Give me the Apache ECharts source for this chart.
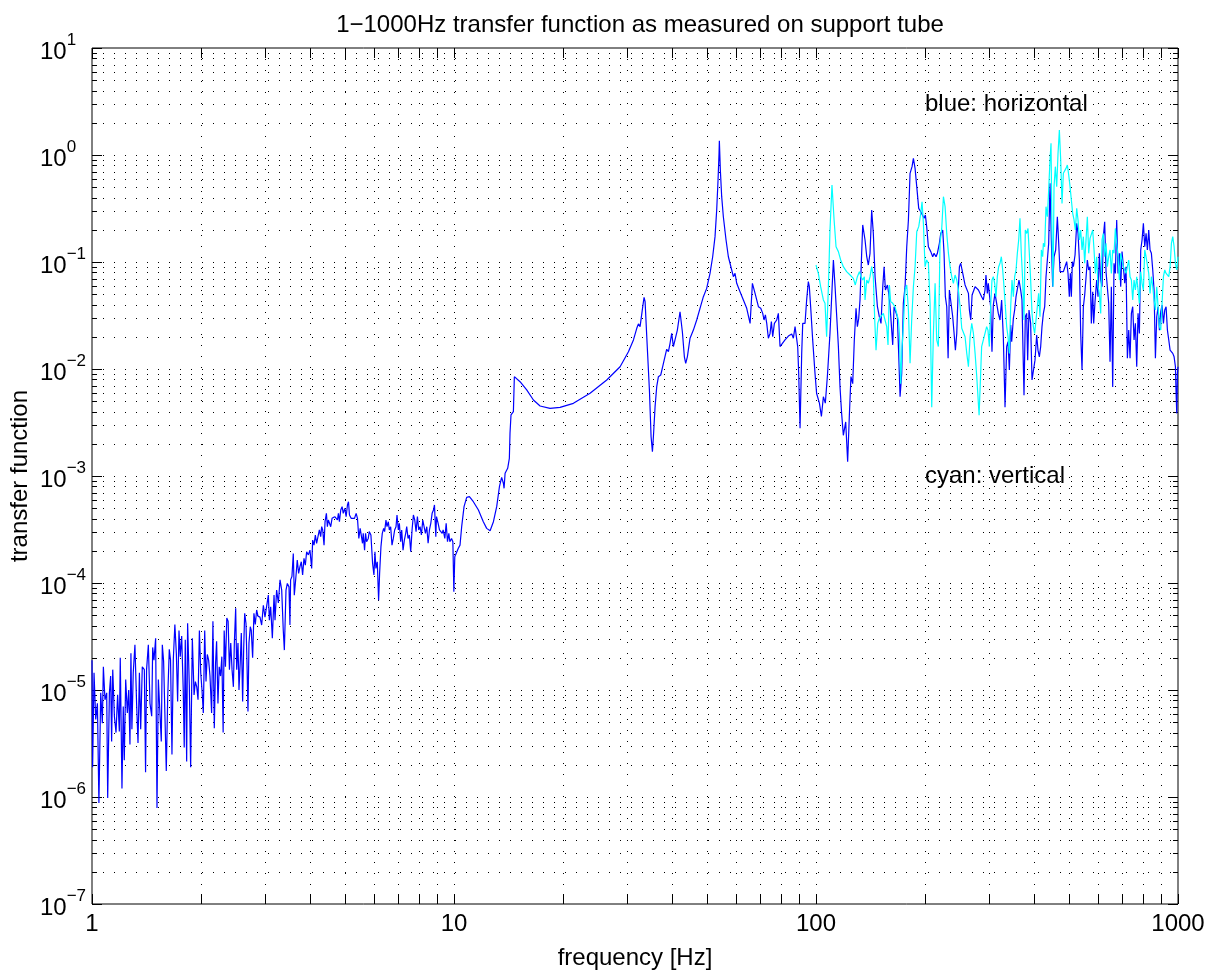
<!DOCTYPE html>
<html>
<head>
<meta charset="utf-8">
<title>transfer function</title>
<script src="https://cdn.jsdelivr.net/npm/echarts@6/dist/echarts.min.js"></script>
<style>
  html, body { margin: 0; padding: 0; background: #fff; }
  #chart { width: 1214px; height: 973px; }
</style>
</head>
<body>
<div id="chart"></div>
<script>
// blue: horizontal
var horizFreq = [
  1.000, 1.004, 1.013, 1.024, 1.035, 1.045, 1.057, 1.068, 1.075, 1.086, 1.098, 1.105, 1.117, 1.126, 1.133, 1.141,
  1.153, 1.165, 1.177, 1.190, 1.197, 1.210, 1.220, 1.228, 1.239, 1.252, 1.263, 1.273, 1.281, 1.289, 1.300, 1.314,
  1.328, 1.340, 1.352, 1.363, 1.377, 1.395, 1.406, 1.415, 1.431, 1.446, 1.462, 1.471, 1.483, 1.499, 1.512, 1.525,
  1.541, 1.554, 1.564, 1.577, 1.590, 1.604, 1.618, 1.635, 1.648, 1.663, 1.677, 1.694, 1.710, 1.724, 1.739, 1.753,
  1.769, 1.787, 1.798, 1.810, 1.826, 1.837, 1.857, 1.873, 1.893, 1.914, 1.930, 1.947, 1.963, 1.980, 1.997, 2.013,
  2.030, 2.048, 2.065, 2.082, 2.100, 2.118, 2.140, 2.158, 2.177, 2.195, 2.209, 2.228, 2.246, 2.265, 2.284, 2.303,
  2.318, 2.337, 2.357, 2.377, 2.397, 2.417, 2.437, 2.458, 2.473, 2.494, 2.510, 2.531, 2.547, 2.569, 2.585, 2.607,
  2.624, 2.641, 2.663, 2.680, 2.697, 2.714, 2.737, 2.754, 2.778, 2.801, 2.825, 2.850, 2.874,
  2.911, 2.942, 2.974, 3.005, 3.038, 3.070, 3.090, 3.116, 3.149, 3.183, 3.203, 3.236, 3.272, 3.307, 3.342, 3.376,
  3.399, 3.435, 3.464, 3.501, 3.522, 3.537, 3.567, 3.598, 3.621, 3.659, 3.690, 3.722, 3.754, 3.786, 3.818, 3.851,
  3.884, 3.917, 3.959, 4.000, 4.044, 4.070, 4.105, 4.140, 4.173, 4.211, 4.247, 4.283, 4.310, 4.338, 4.375, 4.403,
  4.441, 4.469, 4.497, 4.526, 4.565, 4.604, 4.643, 4.683, 4.723, 4.764, 4.794, 4.825, 4.866, 4.908, 4.944, 4.992,
  5.035, 5.078, 5.111, 5.143, 5.198, 5.253, 5.310, 5.366, 5.412, 5.459, 5.505, 5.552, 5.588, 5.614, 5.662, 5.698,
  5.735, 5.796, 5.833, 5.895, 5.958, 6.009, 6.048, 6.086, 6.138, 6.191, 6.230, 6.284, 6.337, 6.392, 6.432, 6.487,
  6.529, 6.585, 6.627, 6.684, 6.741, 6.798, 6.856, 6.915, 6.959, 7.019, 7.064, 7.124, 7.170, 7.231, 7.293, 7.355,
  7.402, 7.465, 7.529, 7.593, 7.658, 7.724, 7.790, 7.856, 7.923, 7.991, 8.059, 8.128, 8.198, 8.268, 8.339, 8.410,
  8.482, 8.554, 8.627, 8.701, 8.776, 8.832, 8.907, 8.947, 9.040, 9.117, 9.195, 9.274, 9.334, 9.433, 9.514, 9.595,
  9.677, 9.738, 9.844, 9.928, 9.991, 10.05,
  10.07, 10.28, 10.39, 10.50, 10.66, 10.84, 11.03, 11.31, 11.68, 12.05, 12.31, 12.58, 12.85, 13.12, 13.35, 13.54,
  13.69, 13.75, 13.84, 14.07, 14.22, 14.28, 14.37, 14.59, 14.68, 14.84, 15.22, 15.88, 16.57, 17.29, 18.42, 19.63,
  21.37, 23.76, 26.42, 28.76, 30.33, 31.31, 31.98, 32.32, 32.66, 33.01, 33.22, 33.50, 33.72, 34.08, 34.66, 35.03,
  35.33, 35.55, 35.93, 36.31, 36.70, 37.25, 37.89, 38.69, 39.11, 39.52, 39.94, 40.37, 40.80, 41.40, 42.11, 42.74,
  43.29, 43.66, 44.12, 44.88, 45.84, 46.82, 47.82, 48.85, 49.89, 50.42, 50.96, 51.83,
  52.61, 53.17, 53.63, 53.97, 54.08, 54.42, 54.89, 55.47, 56.43, 57.27, 58.50, 59.12, 59.75, 60.39, 61.68, 63.01,
  64.36, 65.75, 66.17, 66.73, 67.87, 69.33, 70.36, 71.26, 71.86, 72.48, 73.10, 73.86, 74.65, 75.29, 75.93, 76.74,
  77.88, 78.71, 79.55, 80.39, 82.11, 83.89, 85.69, 86.60, 87.53, 88.45, 89.01, 89.58, 90.35, 91.31, 91.90, 93.25,
  94.23, 95.24, 95.85, 96.66, 97.91,
  99.37, 100.4, 102.2, 103.5, 104.8, 106.1, 107.5, 109.3, 111.7, 112.9, 114.1, 115.3, 116.5, 117.7, 119.0, 120.8,
  122.3, 123.6, 124.9, 126.3, 127.6, 129.0, 130.1, 131.2, 132.3, 133.7, 134.6, 136.6, 138.1, 139.5, 141.0, 142.5,
  144.0, 145.6, 147.8, 149.6, 151.2, 152.9, 154.2, 155.5, 157.5, 158.8, 160.2, 161.9, 162.9, 164.3, 166.0, 167.8,
  169.2, 170.7, 172.5, 174.3, 176.2, 178.1, 180.0, 181.9, 184.2, 185.8, 187.8, 189.8, 192.2, 194.7, 196.7, 198.8,
  200.5, 202.2, 204.4, 207.5, 210.1, 211.9, 214.6, 216.4, 219.2, 221.1, 223.9, 225.8, 227.7, 229.7, 231.7, 233.6,
  236.1, 238.6, 240.7, 242.7, 244.8, 246.9, 249.0, 251.1, 253.2, 255.4, 258.1, 260.9, 263.7, 265.3, 267.6, 269.9,
  272.2, 275.1, 278.0, 281.0,
  283.8, 286.8, 289.9, 293.0, 294.8, 297.4, 299.2, 301.2, 303.7, 306.3, 308.9, 312.2, 315.6, 318.9, 322.3, 325.7,
  329.2, 332.8, 336.3, 339.2, 342.1, 345.0, 347.2, 350.9, 353.8, 356.9, 360.7, 363.7, 367.6, 370.7, 373.1, 375.5,
  378.6, 381.9, 384.3, 387.6, 391.7, 395.1, 398.5, 402.7, 407.0, 410.4, 414.0, 417.5, 421.0, 424.7, 428.3, 431.9,
  435.6, 439.3, 443.0, 446.8, 450.6, 454.5, 459.3, 464.2, 468.2, 472.2, 477.2, 482.3, 487.4, 492.6, 496.8, 501.0,
  504.3, 507.5, 510.7, 514.0, 519.5, 525.0, 529.5, 534.0, 538.5, 543.1, 547.7, 552.4, 557.1, 561.8, 566.6, 571.5,
  576.3, 581.3, 584.9, 589.9, 596.2, 601.3, 606.4, 611.6, 616.8, 622.0, 627.3, 632.7, 638.1, 643.5, 649.0, 654.5,
  660.1, 665.7, 671.4, 677.1, 682.9, 688.7, 694.6, 700.5, 706.5, 712.5, 718.6, 724.7, 730.9, 737.1, 743.4, 749.7,
  756.1, 762.6, 769.1, 775.6, 782.2, 788.9, 795.6, 802.4, 809.3, 816.2, 823.1, 830.1, 837.2, 844.3, 851.6, 858.8,
  866.2, 873.5, 881.0, 888.5, 896.1, 903.7, 911.4, 919.2, 927.0, 934.9, 942.9, 950.9, 959.0, 967.2, 975.5, 983.8,
  988.0, 992.2, 996.4, 1000
];
var horizMag = [
  1.9e-5, 1.9e-6, 1.45e-5, 5.3e-6, 7.5e-6, 8.8e-7, 9.4e-6, 4.9e-6, 1.65e-5, 8.1e-6, 9.4e-6, 9.8e-7, 9.4e-6, 1.35e-5, 3.3e-6, 1.55e-5,
  5.7e-6, 4.0e-6, 9.0e-6, 4.1e-6, 2.0e-5, 1.2e-6, 7.0e-6, 2.2e-6, 1.25e-5, 6.1e-6, 1.0e-5, 3.1e-6, 2.2e-5, 4.3e-6, 1.45e-5, 2.65e-5,
  7.5e-6, 3.2e-6, 1.45e-5, 4.3e-6, 1.65e-5, 1.55e-5, 1.7e-6, 1.55e-5, 2.65e-5, 7.5e-6, 5.7e-6, 2.5e-5, 1.9e-5, 3.05e-5, 7.9e-7, 1.25e-5,
  1.25e-5, 3.3e-6, 2.65e-5, 1.85e-5, 1.85e-5, 1.75e-6, 8.1e-6, 2.4e-5, 1.9e-5, 2.5e-6, 1.9e-5, 4.1e-5, 2.2e-5, 7.8e-6, 3.6e-5, 2.05e-5,
  3.2e-5, 9.7e-6, 2.9e-6, 2.95e-5, 2.15e-6, 4.2e-5, 1.1e-5, 1.9e-6, 3.05e-5, 9.0e-6, 1.2e-5, 1.07e-5, 8.1e-6, 3.6e-5, 1.45e-5, 1.0e-5,
  6.1e-6, 3.6e-5, 1.2e-5, 2.15e-5, 1.9e-5, 1.35e-5, 6.1e-6, 4.4e-5, 4.4e-6, 1.8e-5, 2.85e-5, 7.5e-6, 1.65e-5, 1.35e-5, 2.05e-5, 4.0e-6,
  3.6e-5, 1.65e-5, 4.7e-5, 4.4e-5, 1.55e-5, 2.75e-5, 1.55e-5, 1.07e-5, 2.75e-5, 5.8e-5, 1.55e-5, 2.75e-5, 1.0e-5, 1.9e-5, 3.4e-5, 7.8e-6,
  2.4e-5, 5.2e-5, 4.2e-5, 1.8e-5, 6.3e-6, 2.75e-5, 3.9e-5, 3.6e-5, 2.0e-5, 5.2e-5, 4.1e-5, 5.6e-5, 4.9e-5,
  4.8e-5, 4.05e-5, 6.2e-5, 4.8e-5, 5.0e-5, 7.7e-5, 4.5e-5, 6.0e-5, 3.04e-5, 7.7e-5, 4.5e-5, 8.6e-5, 6.5e-5, 1.07e-4, 8.6e-5, 3.6e-5,
  2.36e-5, 8.6e-5, 9.9e-5, 9.2e-5, 4.05e-5, 1.07e-4, 1.15e-4, 1.89e-4, 7.7e-5, 1.15e-4, 1.64e-4, 1.23e-4, 1.42e-4, 1.58e-4, 1.19e-4, 1.70e-4,
  1.47e-4, 1.96e-4, 1.83e-4, 2.03e-4, 1.37e-4, 2.52e-4, 2.26e-4, 2.81e-4, 2.35e-4, 2.26e-4, 3.13e-4, 2.71e-4, 3.36e-4, 3.13e-4, 2.26e-4, 3.74e-4,
  4.48e-4, 3.36e-4, 3.88e-4, 3.74e-4, 3.36e-4, 4.02e-4, 3.88e-4, 4.17e-4, 4.32e-4, 3.88e-4, 4.48e-4, 3.74e-4, 4.81e-4, 5.17e-4, 4.48e-4, 4.99e-4,
  4.17e-4, 5.36e-4, 5.75e-4, 4.32e-4, 4.02e-4, 4.17e-4, 4.02e-4, 4.48e-4, 4.02e-4, 2.61e-4, 3.24e-4, 2.71e-4, 2.35e-4, 2.91e-4, 2.03e-4, 2.91e-4,
  2.43e-4, 2.61e-4, 3.02e-4, 2.81e-4, 1.53e-4, 1.19e-4, 1.96e-4, 1.37e-4, 1.58e-4, 6.9e-5, 1.23e-4, 2.19e-4, 2.91e-4, 3.24e-4, 3.02e-4, 3.88e-4,
  3.36e-4, 3.74e-4, 3.13e-4, 3.36e-4, 2.26e-4, 2.61e-4, 3.13e-4, 3.36e-4, 4.32e-4, 3.13e-4, 3.61e-4, 2.43e-4, 3.13e-4, 2.03e-4, 2.52e-4, 2.91e-4,
  3.36e-4, 2.61e-4, 2.81e-4, 1.96e-4, 3.13e-4, 4.32e-4, 3.88e-4, 3.02e-4, 4.17e-4, 3.13e-4, 3.36e-4, 2.81e-4, 3.88e-4, 3.74e-4, 2.91e-4, 3.36e-4,
  2.35e-4, 3.13e-4, 3.61e-4, 4.48e-4, 4.81e-4, 5.36e-4, 2.71e-4, 4.17e-4, 3.61e-4, 3.13e-4, 3.24e-4, 2.91e-4, 3.13e-4, 2.61e-4, 3.61e-4, 2.43e-4,
  2.91e-4, 2.43e-4, 2.61e-4, 2.43e-4, 8.3e-5, 1.76e-4,
  1.83e-4, 2.11e-4, 2.26e-4, 3.36e-4, 5.17e-4, 6.32e-4, 6.41e-4, 5.75e-4, 4.81e-4, 3.74e-4, 3.24e-4, 3.08e-4, 3.74e-4, 5.17e-4, 7.94e-4, 9.7e-4,
  8.55e-4, 7.67e-4, 1.06e-3, 1.18e-3, 1.46e-3, 2.51e-3, 3.72e-3, 3.99e-3, 8.48e-3, 8.48e-3, 7.61e-3, 6.37e-3, 5.13e-3, 4.51e-3, 4.29e-3, 4.38e-3,
  4.78e-3, 5.93e-3, 7.9e-3, 1.05e-2, 1.45e-2, 1.87e-2, 2.40e-2, 2.64e-2, 2.49e-2, 2.58e-2, 3.83e-2, 4.68e-2, 4.26e-2, 2.0e-2, 6.37e-3, 2.33e-3,
  1.69e-3, 2.33e-3, 4.45e-3, 6.84e-3, 8.48e-3, 8.79e-3, 1.13e-2, 1.53e-2, 1.45e-2, 1.74e-2, 2.15e-2, 1.62e-2, 1.56e-2, 2.31e-2, 3.43e-2, 2.23e-2,
  1.30e-2, 1.13e-2, 1.30e-2, 1.94e-2, 2.31e-2, 2.87e-2, 3.69e-2, 4.74e-2, 5.67e-2, 5.88e-2, 7.83e-2, 0.112,
  0.1726, 0.306, 0.584, 1.04, 1.36, 0.724, 0.408, 0.265, 0.1606, 0.112, 0.0842, 0.0729, 0.0783, 0.0632, 0.0528, 0.0442,
  0.0369, 0.0267, 0.0382, 0.0632, 0.0509, 0.0382, 0.0369, 0.0331, 0.0287, 0.0320, 0.0267, 0.0194, 0.0215, 0.0277, 0.0200, 0.0267,
  0.0287, 0.0331, 0.0162, 0.0162, 0.0187, 0.0203, 0.0212, 0.0194, 0.0249, 0.0240, 0.0162, 9.12e-3, 2.79e-3, 0.0140, 0.0267, 0.0267,
  0.0442, 0.0655, 0.0588, 0.0382, 0.0187,
  9.1e-3, 5.9e-3, 4.8e-3, 3.6e-3, 5.5e-3, 4.8e-3, 8.5e-3, 0.0215, 0.1044, 0.0588, 0.0308, 0.0162, 6.8e-3, 3.85e-3, 2.4e-3, 3.2e-3,
  1.36e-3, 3.6e-3, 8.5e-3, 7.3e-3, 0.0187, 0.0369, 0.0249, 0.0297, 0.0442, 0.1205, 0.222, 0.1606, 0.112, 0.0937, 0.1205, 0.306,
  0.185, 0.0729, 0.0382, 0.0308, 0.0267, 0.0588, 0.0904, 0.0547, 0.0610, 0.0509, 0.0382, 0.0369, 0.0168, 0.0382, 0.0369, 0.0308,
  0.0140, 5.5e-3, 9.1e-3, 0.0411, 0.0588, 0.139, 0.247, 0.674, 0.778, 0.931, 0.750, 0.506, 0.317, 0.295, 0.285, 0.256,
  0.275, 0.214, 0.139, 0.125, 0.112, 0.1205, 0.112, 0.1205, 0.1494, 0.185, 0.199, 0.1205, 0.0474, 0.0382, 0.0126, 0.0547,
  0.0547, 0.0308, 0.0215, 0.0150, 0.0215, 0.0509, 0.0904, 0.0972, 0.0842, 0.0729, 0.0610, 0.0632, 0.0509, 0.0356, 0.0287, 0.0491,
  0.0491, 0.0588, 0.0610, 0.0547,
  0.0567, 0.0474, 0.0442, 0.0547, 0.0756, 0.0509, 0.0632, 0.0632, 0.0382, 0.0145, 0.0396, 0.0509, 0.0509, 0.0331, 0.0287, 0.0442,
  0.0200, 4.4e-3, 0.0162, 0.0180, 9.8e-3, 0.0258, 0.0180, 0.0297, 0.0356, 0.0474, 0.0474, 0.0679, 0.0547, 0.0442, 0.0150, 5.7e-3,
  0.0308, 0.0331, 0.0121, 0.0356, 0.0267, 7.9e-3, 7.9e-3, 0.0121, 0.0208, 0.0150, 0.0130, 0.0162, 0.0249, 0.0331, 0.0382, 0.0729,
  0.1044, 0.1494, 0.543, 0.1606, 0.0588, 0.112, 0.1295, 0.265, 0.1494, 0.0812, 0.0842, 0.0812, 0.0904, 0.1007, 0.0783, 0.0474,
  0.0783, 0.0474, 0.1007, 0.0904, 0.1162, 0.230, 0.185, 0.1044, 0.0215, 9.8e-3, 0.0382, 0.0491, 0.0509, 0.1044, 0.0842, 0.0904,
  0.0267, 0.0528, 0.0267, 0.0426, 0.0679, 0.0474, 0.1205, 0.0679, 0.0588, 0.1725, 0.238, 0.0812, 0.0842, 0.0411, 0.0117, 0.0588,
  6.8e-3, 0.0972, 0.0783, 0.247, 0.0783, 0.1205, 0.0588, 0.125, 0.0904, 0.0632, 0.0904, 0.0126, 0.0231, 0.0126, 0.0331, 0.0382,
  0.0187, 0.0267, 0.0105, 0.0331, 0.0215, 0.1295, 0.1606, 0.230, 0.139, 0.185, 0.1295, 0.199, 0.1295, 0.1205, 0.0842, 0.0547,
  0.0126, 0.0308, 0.0382, 0.0231, 0.0343, 0.0396, 0.0267, 0.0356, 0.0382, 0.0231, 0.0187, 0.0150, 0.0150, 0.0140, 0.0130, 0.0105,
  5.9e-3, 3.85e-3, 9.1e-3, 0.0105
];

// cyan: vertical
var vertFreq = [
  100.0, 101.5, 103.0, 104.8, 105.9, 107.0, 108.2, 109.3, 110.7, 112.2, 113.6, 115.3, 117.0, 119.0, 121.5, 124.2,
  126.8, 128.4, 130.1, 131.8, 133.2, 134.6, 136.0, 136.6, 138.1, 139.5, 141.0, 142.5, 144.0, 145.3, 146.5, 148.1,
  149.6, 151.2, 153.5, 155.1, 156.8, 158.1, 159.5, 160.8, 162.9, 165.3, 167.1, 168.9, 170.0, 171.4, 172.9, 174.3,
  176.2, 178.1, 180.0, 181.9, 183.8, 185.8, 187.8, 189.8, 192.2, 194.7, 196.3, 198.0, 200.1, 202.2, 204.4, 206.6,
  208.8, 211.0, 213.3, 215.5, 217.8, 220.1, 222.5, 224.9, 227.3, 229.7, 232.2, 234.6, 237.1, 239.6, 242.2, 244.8,
  247.4, 250.0, 252.7, 255.4, 258.1, 260.9, 263.7, 266.5, 269.3, 272.2, 275.1, 278.0, 282.2,
  286.8, 289.9, 293.0, 296.1, 298.6, 301.2, 303.7, 306.3, 308.9, 311.6, 314.2, 316.9, 319.6, 322.3, 325.1, 327.9,
  330.6, 333.5, 336.3, 339.2, 342.1, 345.0, 347.9, 350.9, 353.8, 356.9, 359.9, 363.0, 366.0, 369.1, 372.3, 375.5,
  378.6, 381.9, 385.1, 388.4, 391.7, 395.1, 398.5, 401.8, 405.3, 408.7, 412.2, 415.7, 419.3, 422.8, 424.7, 428.3,
  431.9, 435.6, 439.3, 443.0, 445.9, 448.7, 451.6, 454.5, 458.3, 462.3, 466.2, 470.2, 474.2, 478.2, 482.3, 486.4,
  490.5, 494.7, 499.0, 503.2, 507.5, 511.8, 516.2, 520.6, 525.0, 529.5, 534.0, 538.5, 543.1, 547.7, 552.4, 557.1,
  561.8, 566.6, 571.5, 576.3, 581.3, 586.2, 591.2, 596.2, 601.3, 606.4, 611.6, 616.8, 622.0, 627.3, 632.7, 638.1,
  643.5, 649.0, 654.5, 660.1, 665.7, 671.4, 677.1, 682.9, 688.7, 694.6, 700.5, 706.5, 712.5, 718.6, 724.7, 730.9,
  737.1, 743.4, 749.7, 756.1, 762.6, 769.1, 775.6, 782.2, 788.9, 795.6, 802.4, 809.3, 816.2, 823.1, 830.1, 837.2,
  844.3, 851.6, 858.8, 866.2, 873.5, 881.0, 888.5, 896.1, 903.7, 911.4, 919.2, 927.0, 934.9, 942.9, 950.9, 959.0,
  967.2, 975.5, 983.8, 992.2, 1000
];
var vertMag = [
  0.0937, 0.0783, 0.0588, 0.0442, 0.0411, 0.0200, 0.0588, 0.199, 0.524, 0.247, 0.139, 0.125, 0.1044, 0.0904, 0.0812, 0.0756,
  0.0704, 0.0610, 0.0729, 0.0812, 0.0729, 0.0679, 0.0729, 0.0442, 0.0679, 0.0632, 0.0729, 0.0904, 0.0729, 0.0287, 0.0150, 0.0267,
  0.0297, 0.0287, 0.0331, 0.0287, 0.0249, 0.0168, 0.0610, 0.0426, 0.0411, 0.0382, 0.0331, 0.0287, 0.0215, 7.3e-3, 0.0162, 0.0249,
  0.0547, 0.0610, 0.0356, 0.0113, 0.0287, 0.0588, 0.0904, 0.192, 0.214, 0.285, 0.366, 0.230, 0.0904, 0.1044, 0.0972, 0.0411,
  4.4e-3, 0.0215, 0.0632, 0.0187, 0.0162, 0.1494, 0.206, 0.408, 0.329, 0.185, 0.1205, 0.0904, 0.0729, 0.0632, 0.0756, 0.0679,
  0.0547, 0.0382, 0.0240, 0.0249, 0.0200, 0.0140, 0.0105, 0.0200, 0.0267, 0.0215, 0.0140, 8.5e-3, 3.7e-3,
  0.0162, 0.0168, 0.0215, 0.0249, 0.0231, 0.0162, 0.0382, 0.0679, 0.0729, 0.0632, 0.0474, 0.0729, 0.0904, 0.0972, 0.112, 0.0842,
  0.0588, 0.0382, 0.0249, 0.0200, 0.0140, 0.0382, 0.0679, 0.0474, 0.0729, 0.0842, 0.1205, 0.1606, 0.256, 0.1205, 0.0679, 0.0287,
  0.199, 0.185, 0.206, 0.1205, 0.0679, 0.0331, 0.0249, 0.0215, 0.0287, 0.0382, 0.0509, 0.0308, 0.1295, 0.112, 0.1494, 0.139,
  0.329, 0.265, 0.471, 0.898, 1.29, 0.1725, 0.0588, 0.506, 0.778, 0.506, 1.04, 1.71, 0.898, 0.353, 0.674, 0.699,
  0.750, 0.806, 0.650, 0.506, 0.380, 0.285, 0.247, 0.199, 0.317, 0.247, 0.1606, 0.199, 0.1295, 0.1725, 0.0972, 0.1606,
  0.265, 0.1205, 0.1663, 0.1606, 0.199, 0.1295, 0.0783, 0.112, 0.0588, 0.0509, 0.0331, 0.1606, 0.185, 0.112, 0.1494, 0.0904,
  0.112, 0.1295, 0.0783, 0.1295, 0.1205, 0.206, 0.1494, 0.112, 0.0679, 0.1205, 0.125, 0.0904, 0.0842, 0.0783, 0.0756, 0.1044,
  0.0729, 0.0679, 0.0442, 0.0679, 0.0547, 0.0729, 0.0729, 0.0411, 0.0812, 0.0632, 0.0547, 0.1295, 0.112, 0.112, 0.0783, 0.0509,
  0.0729, 0.0588, 0.0442, 0.0356, 0.0588, 0.0382, 0.0249, 0.0231, 0.0411, 0.0729, 0.0842, 0.0783, 0.0812, 0.0729, 0.0904, 0.1494,
  0.1725, 0.139, 0.0972, 0.0842, 0.112
];

var xMajor = [1, 10, 100, 1000];
var yMajor = [1e-7, 1e-6, 1e-5, 1e-4, 1e-3, 1e-2, 1e-1, 1, 10];
var noteText = ['blue: horizontal', 'cyan: vertical'];
var noteX = [200, 200];
var noteY = [3, 1e-3];

var FONT = 'Liberation Sans, Arial, Helvetica, sans-serif';

function pairs(xs, ys) {
  return xs.map(function (x, i) { return [x, ys[i]]; });
}

// major + minor tick values (1..9 per decade), flag 1 for major
function tickList(majors) {
  var out = [];
  majors.forEach(function (m, k) {
    out.push([m, 1]);
    if (k < majors.length - 1) {
      for (var j = 2; j <= 9; j++) out.push([m * j, 0]);
    }
  });
  return out;
}

var dotted = { stroke: '#000', lineWidth: 1, lineDash: [1, 10] };
var solid = { stroke: '#000', lineWidth: 1 };

function xGridItem(params, api) {
  var cs = params.coordSys;
  var p = api.coord([api.value(0), 1]);
  var x = Math.round(p[0]) + 0.5;
  var top = cs.y, bot = cs.y + cs.height;
  var len = 10;
  var kids = [];
  if (x > cs.x + 1 && x < cs.x + cs.width - 1) {
    kids.push({ type: 'line', shape: { x1: x, y1: top, x2: x, y2: bot }, style: dotted });
  }
  kids.push({ type: 'line', shape: { x1: x, y1: bot, x2: x, y2: bot - len }, style: solid });
  kids.push({ type: 'line', shape: { x1: x, y1: top, x2: x, y2: top + len }, style: solid });
  return { type: 'group', children: kids };
}

function yGridItem(params, api) {
  var cs = params.coordSys;
  var p = api.coord([1, api.value(1)]);
  var y = Math.round(p[1]) + 0.5;
  var left = cs.x, right = cs.x + cs.width;
  var len = api.value(2) === 1 ? 10 : 5;
  var kids = [];
  if (y > cs.y + 1 && y < cs.y + cs.height - 1) {
    kids.push({ type: 'line', shape: { x1: left, y1: y, x2: right, y2: y }, style: dotted });
  }
  kids.push({ type: 'line', shape: { x1: left, y1: y, x2: left + len, y2: y }, style: solid });
  kids.push({ type: 'line', shape: { x1: right, y1: y, x2: right - len, y2: y }, style: solid });
  return { type: 'group', children: kids };
}

// text placed at a data point, left-aligned, vertically centred
function noteItem(params, api) {
  var p = api.coord([api.value(0), api.value(1)]);
  return {
    type: 'text',
    x: p[0], y: p[1],
    style: {
      text: noteText[params.dataIndex],
      fill: '#000',
      font: '24px ' + FONT,
      align: 'left',
      verticalAlign: 'middle'
    }
  };
}

var chart = echarts.init(document.getElementById('chart'));
chart.setOption({
  animation: false,
  backgroundColor: '#fff',
  textStyle: { fontFamily: FONT },
  title: {
    text: '1\u22121000Hz transfer function as measured on support tube',
    left: 635,
    top: 8,
    textAlign: 'center',
    textStyle: { fontFamily: FONT, fontSize: 24, fontWeight: 'normal', color: '#000' }
  },
  grid: {
    left: 92, right: 36, top: 48, bottom: 69,
    outerBoundsMode: 'none',
    containLabel: false,
    show: true, borderColor: '#000', borderWidth: 1, backgroundColor: 'transparent'
  },
  xAxis: {
    type: 'log',
    logBase: 10,
    min: 1,
    max: 1000,
    interval: 1,
    name: 'frequency [Hz]',
    nameLocation: 'middle',
    nameGap: 42,
    nameMoveOverlap: false,
    nameTextStyle: { fontFamily: FONT, fontSize: 24, color: '#000' },
    axisLine: { show: false },
    axisTick: { show: false },
    splitLine: { show: false },
    axisLabel: {
      margin: 8,
      fontFamily: FONT,
      fontSize: 24,
      color: '#000',
      formatter: function (v) { return String(Math.round(v)); }
    }
  },
  yAxis: {
    type: 'log',
    logBase: 10,
    min: 1e-7,
    max: 10,
    interval: 1,
    name: 'transfer function',
    nameLocation: 'middle',
    nameGap: 60,
    nameMoveOverlap: false,
    nameTextStyle: { fontFamily: FONT, fontSize: 24, color: '#000' },
    axisLine: { show: false },
    axisTick: { show: false },
    splitLine: { show: false },
    axisLabel: {
      margin: 52,
      align: 'left',
      formatter: function (v) {
        var e = Math.round(Math.log10(v));
        return '{b|10}{s|' + String(e).replace('-', '\u2212') + '}';
      },
      rich: {
        b: { fontFamily: FONT, fontSize: 24, color: '#000', verticalAlign: 'bottom', lineHeight: 32 },
        s: { fontFamily: FONT, fontSize: 17, color: '#000', verticalAlign: 'top', lineHeight: 32 }
      }
    }
  },
  series: [
    {
      name: 'xgrid', type: 'custom', silent: true, z: 1,
      renderItem: xGridItem,
      data: tickList(xMajor).map(function (t) { return [t[0], 1, t[1]]; })
    },
    {
      name: 'ygrid', type: 'custom', silent: true, z: 1,
      renderItem: yGridItem,
      data: tickList(yMajor).map(function (t) { return [1, t[0], t[1]]; })
    },
    {
      name: 'horizontal', type: 'line', z: 3,
      data: pairs(horizFreq, horizMag),
      showSymbol: false, symbol: 'none',
      lineStyle: { color: '#0000ff', width: 1.2 },
      itemStyle: { color: '#0000ff' }
    },
    {
      name: 'vertical', type: 'line', z: 4,
      data: pairs(vertFreq, vertMag),
      showSymbol: false, symbol: 'none',
      lineStyle: { color: '#00ffff', width: 1.2 },
      itemStyle: { color: '#00ffff' }
    },
    {
      name: 'notes', type: 'custom', z: 5, silent: true,
      renderItem: noteItem,
      data: pairs(noteX, noteY)
    }
  ]
});
</script>
</body>
</html>
